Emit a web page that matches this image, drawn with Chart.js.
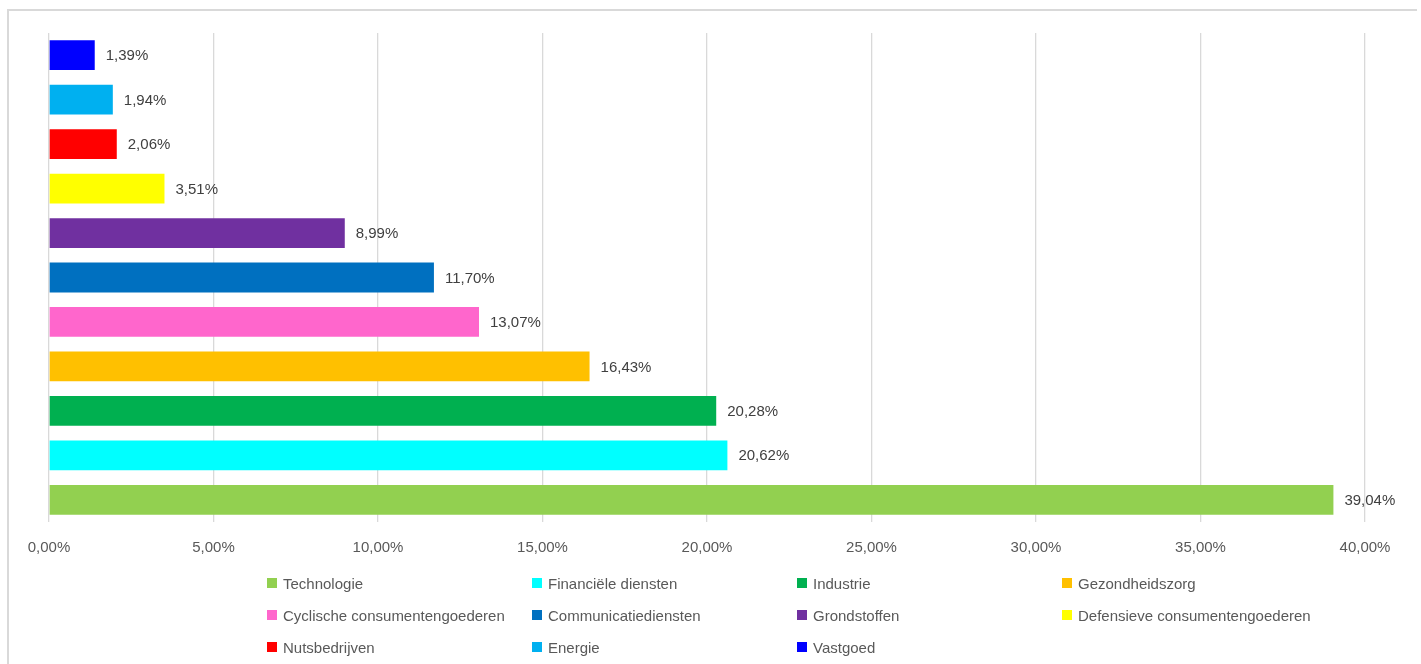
<!DOCTYPE html>
<html>
<head>
<meta charset="utf-8">
<script src="https://cdn.jsdelivr.net/npm/chart.js@4.4.1/dist/chart.umd.min.js"></script>
<style>
  body { margin: 0; background: #fff; font-family: "Liberation Sans", Arial, sans-serif; }
  #frame { position: absolute; left: 7px; top: 9px; width: 1408px; height: 700px; border: 2px solid #d9d9d9; border-bottom: none; border-right: none; }
  #wrap { position: absolute; left: 0; top: 0; width: 1421px; height: 588px; }
  #legend { position: absolute; left: 267px; top: 574px; display: grid; grid-template-columns: 265px 265px 265px 300px; row-gap: 14px; }
  .item { display: flex; align-items: center; font-size: 15px; color: #595959; height: 18px; white-space: nowrap; }
  .box { width: 10px; height: 10px; margin-right: 6px; }
</style>
</head>
<body>
<div id="frame"></div>
<div id="wrap"><canvas id="chart"></canvas></div>
<div id="legend"></div>
<script>
const sectors = ['Technologie', 'Financiële diensten', 'Industrie', 'Gezondheidszorg',
  'Cyclische consumentengoederen', 'Communicatiediensten', 'Grondstoffen',
  'Defensieve consumentengoederen', 'Nutsbedrijven', 'Energie', 'Vastgoed'];
const weights = [39.04, 20.62, 20.28, 16.43, 13.07, 11.70, 8.99, 3.51, 2.06, 1.94, 1.39];
const colors = ['#92D050', '#00FFFF', '#00B050', '#FFC000', '#FF66CC', '#0070C0',
  '#7030A0', '#FFFF00', '#FF0000', '#00B0F0', '#0000FF'];
const xTicks = [0, 5, 10, 15, 20, 25, 30, 35, 40];

function fmt(v) {
  return v.toFixed(2).replace('.', ',') + '%';
}

// labels next to the bars
const valueLabels = {
  id: 'valueLabels',
  afterDatasetsDraw(chart) {
    const ctx = chart.ctx;
    const meta = chart.getDatasetMeta(0);
    ctx.save();
    ctx.font = '15px "Liberation Sans", Arial, sans-serif';
    ctx.fillStyle = '#404040';
    ctx.textBaseline = 'middle';
    meta.data.forEach((bar, i) => {
      ctx.fillText(fmt(weights[i]), bar.x + 11, bar.y + 1);
    });
    ctx.restore();
  }
};

new Chart(document.getElementById('chart'), {
  type: 'bar',
  data: {
    labels: sectors,
    datasets: [{
      data: weights,
      backgroundColor: colors,
      borderWidth: 0,
      barPercentage: 0.67,
      categoryPercentage: 1
    }]
  },
  plugins: [valueLabels],
  options: {
    indexAxis: 'y',
    responsive: true,
    maintainAspectRatio: false,
    animation: false,
    layout: { padding: { left: 49, right: 56, top: 33, bottom: 14 } },
    plugins: { legend: { display: false }, tooltip: { enabled: false } },
    scales: {
      x: {
        min: 0,
        max: 40,
        afterBuildTicks: axis => { axis.ticks = xTicks.map(v => ({ value: v })); },
        ticks: {
          callback: v => fmt(v),
          color: '#595959',
          font: { size: 15, family: '"Liberation Sans", Arial, sans-serif' },
          padding: 17,
          maxRotation: 0
        },
        grid: { color: '#d9d9d9', lineWidth: 1.3, drawTicks: false },
        border: { display: false }
      },
      y: {
        reverse: true,
        display: false
      }
    }
  }
});

const legend = document.getElementById('legend');
sectors.forEach((s, i) => {
  const el = document.createElement('div');
  el.className = 'item';
  el.innerHTML = '<span class="box" style="background:' + colors[i] + '"></span>' + s;
  legend.appendChild(el);
});
</script>
</body>
</html>
